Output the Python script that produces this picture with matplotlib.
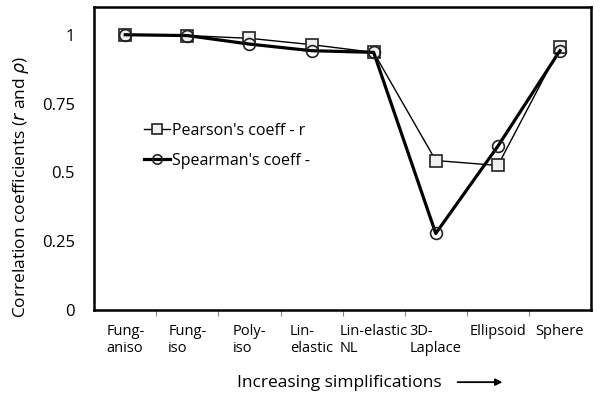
import numpy as np
import matplotlib
matplotlib.use('Agg')
import matplotlib.pyplot as plt

# Data
categories = ['Fung-\naniso', 'Fung-\niso', 'Poly-\niso', 'Lin-\nelastic',
              'Lin-elastic\nNL', '3D-\nLaplace', 'Ellipsoid', 'Sphere']
pearson = [1.0, 0.997, 0.987, 0.964, 0.936, 0.543, 0.525, 0.954]
spearman = [1.0, 0.997, 0.966, 0.942, 0.936, 0.278, 0.595, 0.942]
yticks = [0, 0.25, 0.5, 0.75, 1]
yticklabels = ['0', '0.25', '0.5', '0.75', '1']

plt.rcParams['font.family'] = ['Open Sans', 'DejaVu Sans']

fig = plt.figure(figsize=(6, 4.01), dpi=100)
ax = fig.add_axes([0.157, 0.227, 0.828, 0.755])

x = np.arange(len(categories))
ax.plot(x, pearson, color='black', lw=1.0, marker='s', markersize=8.5,
        markerfacecolor='#f0f0f0', markeredgecolor='#222222', markeredgewidth=1.2,
        label="Pearson's coeff - r", zorder=3)
ax.plot(x, spearman, color='black', lw=2.3, marker='o', markersize=8.5,
        markerfacecolor='none', markeredgecolor='#222222', markeredgewidth=1.2,
        label="Spearman's coeff -", zorder=4)

ax.set_xlim(-0.5, len(categories) - 0.5)
ax.set_ylim(0, 1.1)
ax.set_yticks(yticks)
ax.set_yticklabels(yticklabels, fontsize=12)
ax.tick_params(axis='y', length=0, pad=14)

# boundaries get tick marks, labels sit at category centres
ax.set_xticks(np.arange(0.5, len(categories) - 0.5, 1.0))
ax.set_xticklabels([])
ax.tick_params(axis='x', which='major', length=4, color='#888888', direction='out')
ax.set_xticks(x, minor=True)
ax.set_xticklabels(categories, minor=True, fontsize=10.5, multialignment='left')
ax.tick_params(axis='x', which='minor', length=0, pad=10)

for s in ax.spines.values():
    s.set_linewidth(1.8)

ax.set_ylabel(r'Correlation coefficients ($r$ and $\rho$)', fontsize=12.5)
ax.yaxis.set_label_coords(-0.127, 0.406)

fig.text(0.395, 0.045, 'Increasing simplifications', fontsize=12.5, va='center')
fig.add_artist(matplotlib.patches.FancyArrowPatch(
    (0.758, 0.047), (0.842, 0.047), transform=fig.transFigure,
    arrowstyle='-|>', mutation_scale=10, color='black', lw=1.3))

leg = ax.legend(loc='upper left', bbox_to_anchor=(0.072, 0.665), frameon=False,
                fontsize=11.5, handlelength=1.6, handletextpad=0.15, labelspacing=0.85,
                markerscale=0.8)

fig.savefig('out.png', dpi=100)
